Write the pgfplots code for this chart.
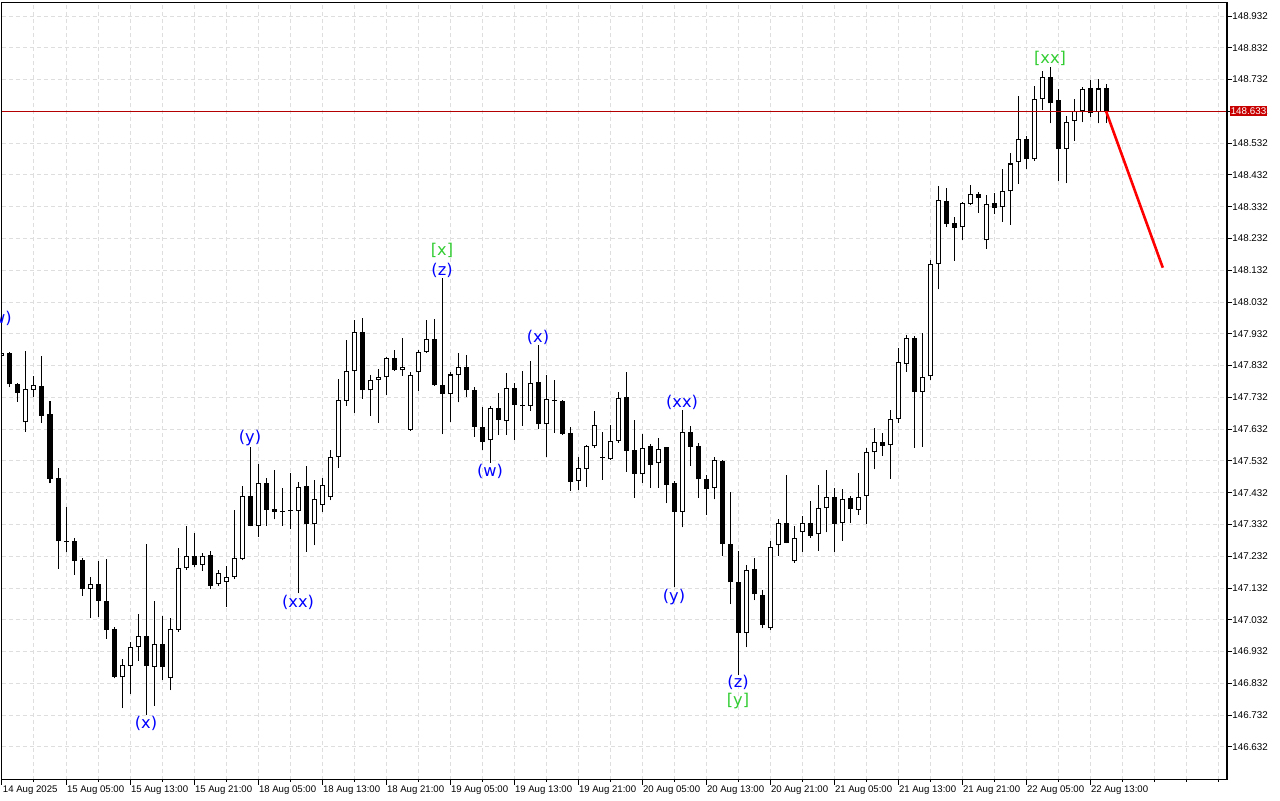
\documentclass[border=0pt]{standalone}
\usepackage{fontspec}
\setmainfont{Liberation Sans}
\newfontfamily\lblfont{DejaVu Sans}
\usepackage{pgfplots}
\pgfplotsset{compat=1.18}
\usepackage{pgfplotstable}

\definecolor{mtblue}{RGB}{0,0,255}
\definecolor{mtgreen}{RGB}{50,205,50}
\definecolor{gridc}{RGB}{222,222,222}
\definecolor{pricered}{RGB}{180,0,0}
\definecolor{boxred}{RGB}{200,0,0}

\pgfplotstableread{
i o h l c
0 147.862 147.878 147.856 147.872
1 147.871 147.874 147.764 147.773
2 147.774 147.778 147.718 147.747
3 147.653 147.878 147.624 147.757
4 147.755 147.799 147.734 147.770
5 147.768 147.862 147.652 147.674
6 147.680 147.721 147.462 147.476
7 147.477 147.509 147.193 147.279
8 147.281 147.387 147.244 147.278
9 147.280 147.289 147.174 147.218
10 147.220 147.226 147.108 147.130
11 147.130 147.168 147.039 147.144
12 147.145 147.217 147.042 147.092
13 147.091 147.223 146.973 147.001
14 147.003 147.010 146.848 146.852
15 146.851 146.909 146.754 146.889
16 146.886 146.962 146.798 146.946
17 146.946 147.051 146.903 146.980
18 146.980 147.271 146.732 146.886
19 146.883 147.091 146.762 146.955
20 146.956 147.044 146.843 146.884
21 146.849 147.038 146.811 147.003
22 147.000 147.257 146.994 147.194
23 147.194 147.327 147.189 147.232
24 147.232 147.304 147.197 147.205
25 147.205 147.241 147.187 147.232
26 147.235 147.249 147.129 147.139
27 147.144 147.189 147.138 147.180
28 147.152 147.201 147.073 147.168
29 147.166 147.378 147.160 147.226
30 147.224 147.453 147.220 147.421
31 147.421 147.577 147.326 147.328
32 147.328 147.521 147.293 147.463
33 147.463 147.477 147.328 147.379
34 147.380 147.503 147.348 147.372
35 147.376 147.446 147.328 147.373
36 147.377 147.495 147.317 147.374
37 147.374 147.465 147.116 147.449
38 147.453 147.516 147.246 147.334
39 147.334 147.472 147.267 147.412
40 147.393 147.478 147.371 147.456
41 147.418 147.566 147.409 147.545
42 147.545 147.789 147.511 147.723
43 147.720 147.912 147.706 147.814
44 147.814 147.975 147.684 147.937
45 147.937 147.981 147.728 147.754
46 147.754 147.802 147.674 147.786
47 147.786 147.820 147.652 147.795
48 147.795 147.860 147.738 147.855
49 147.855 147.881 147.816 147.819
50 147.817 147.919 147.800 147.827
51 147.630 147.812 147.627 147.801
52 147.811 147.881 147.753 147.874
53 147.874 147.975 147.872 147.915
54 147.915 147.979 147.768 147.770
55 147.770 148.107 147.616 147.742
56 147.742 147.812 147.655 147.804
57 147.801 147.871 147.716 147.827
58 147.827 147.866 147.734 147.754
59 147.754 147.766 147.608 147.640
60 147.638 147.701 147.566 147.592
61 147.597 147.705 147.526 147.698
62 147.698 147.745 147.614 147.660
63 147.657 147.810 147.614 147.761
64 147.761 147.776 147.598 147.708
65 147.707 147.816 147.642 147.704
66 147.705 147.846 147.690 147.777
67 147.780 147.897 147.631 147.647
68 147.647 147.802 147.545 147.726
69 147.723 147.787 147.621 147.720
70 147.721 147.724 147.614 147.618
71 147.619 147.640 147.438 147.467
72 147.470 147.543 147.441 147.509
73 147.506 147.582 147.451 147.578
74 147.578 147.690 147.573 147.644
75 147.545 147.623 147.472 147.542
76 147.537 147.645 147.535 147.596
77 147.595 147.750 147.589 147.729
78 147.732 147.813 147.498 147.564
79 147.566 147.661 147.416 147.492
80 147.490 147.617 147.463 147.572
81 147.578 147.585 147.447 147.520
82 147.524 147.603 147.447 147.570
83 147.575 147.577 147.399 147.457
84 147.462 147.470 147.136 147.372
85 147.372 147.692 147.323 147.622
86 147.622 147.642 147.517 147.577
87 147.579 147.587 147.416 147.474
88 147.474 147.488 147.363 147.443
89 147.446 147.543 147.411 147.535
90 147.532 147.535 147.234 147.270
91 147.270 147.434 147.081 147.150
92 147.150 147.249 146.858 146.990
93 146.990 147.204 146.946 147.188
94 147.191 147.226 147.094 147.112
95 147.110 147.126 147.006 147.016
96 147.006 147.280 147.000 147.262
97 147.266 147.349 147.234 147.336
98 147.336 147.488 147.273 147.275
99 147.216 147.326 147.211 147.289
100 147.307 147.359 147.246 147.336
101 147.336 147.406 147.290 147.296
102 147.301 147.456 147.249 147.383
103 147.383 147.503 147.307 147.419
104 147.417 147.446 147.246 147.334
105 147.336 147.443 147.281 147.411
106 147.414 147.422 147.338 147.380
107 147.377 147.493 147.363 147.419
108 147.421 147.572 147.334 147.559
109 147.559 147.636 147.506 147.591
110 147.591 147.619 147.548 147.580
111 147.581 147.692 147.476 147.663
112 147.663 147.886 147.652 147.842
113 147.837 147.928 147.813 147.918
114 147.918 147.925 147.574 147.750
115 147.750 147.934 147.577 147.795
116 147.798 148.164 147.787 148.151
117 148.151 148.397 148.072 148.352
118 148.349 148.391 148.269 148.278
119 148.281 148.299 148.162 148.266
120 148.267 148.348 148.228 148.343
121 148.341 148.400 148.337 148.371
122 148.371 148.379 148.313 148.360
123 148.226 148.369 148.200 148.340
124 148.343 148.376 148.309 148.329
125 148.330 148.451 148.285 148.380
126 148.380 148.500 148.275 148.468
127 148.472 148.680 148.404 148.544
128 148.544 148.554 148.451 148.481
129 148.481 148.712 148.477 148.670
130 148.670 148.759 148.636 148.739
131 148.739 148.771 148.594 148.657
132 148.667 148.702 148.414 148.513
133 148.513 148.617 148.406 148.598
134 148.601 148.670 148.540 148.633
135 148.632 148.710 148.598 148.701
136 148.704 148.731 148.615 148.626
137 148.630 148.734 148.594 148.704
138 148.704 148.718 148.596 148.633
}\candles

\pgfplotsset{candlepart/.style={only marks, mark=*, mark size=0pt,
  mark options={draw=none, fill=none}, forget plot}}

\begin{document}
\begin{tikzpicture}
\useasboundingbox (0,0) rectangle (640pt,400pt);
\begin{axis}[
  at={(1pt,10.25pt)}, anchor=south west,
  width=612.5pt, height=388.25pt, scale only axis,
  xmin=0, xmax=153.125, ymin=146.5295, ymax=148.973,
  clip mode=individual,
  axis line style={line width=0.5pt, black},
  tick align=outside,
  major tick length=2.5pt, minor tick length=1pt,
  tick style={black, line width=0.5pt},
  xtick={0,8,...,136},
  xticklabels={14 Aug 2025,15 Aug 05:00,15 Aug 13:00,15 Aug 21:00,18 Aug 05:00,18 Aug 13:00,18 Aug 21:00,19 Aug 05:00,19 Aug 13:00,19 Aug 21:00,20 Aug 05:00,20 Aug 13:00,20 Aug 21:00,21 Aug 05:00,21 Aug 13:00,21 Aug 21:00,22 Aug 05:00,22 Aug 13:00},
  minor xtick={4,12,...,132,140,144,148,152},
  xtick pos=left, ytick pos=right, yticklabel pos=right,
  ytick={146.632,146.732,146.832,146.932,147.032,147.132,147.232,147.332,147.432,147.532,147.632,147.732,147.832,147.932,148.032,148.132,148.232,148.332,148.432,148.532,148.632,148.732,148.832,148.932},
  yticklabels={146.632,146.732,146.832,146.932,147.032,147.132,147.232,147.332,147.432,147.532,147.632,147.732,147.832,147.932,148.032,148.132,148.232,148.332,148.432,148.532,148.632,148.732,148.832,148.932},
  xmajorgrids, xminorgrids, ymajorgrids,
  grid style={gridc, dash pattern=on 2pt off 1.5pt, line width=0.5pt},
  minor grid style={gridc, dash pattern=on 2pt off 1.5pt, line width=0.5pt},
  xticklabel style={font=\fontsize{4.8pt}{5.5pt}\selectfont, anchor=north west, inner sep=0pt, xshift=0.3pt, yshift=-0.4pt},
  yticklabel style={font=\fontsize{4.9pt}{5.5pt}\selectfont, anchor=west, inner sep=0pt},
]
% wicks
\addplot[candlepart,
  error bars/.cd, y dir=plus, y explicit, error mark=none,
  error bar style={draw=black, solid, line width=0.5pt}]
  table[x=i, y=l, y error plus expr=\thisrow{h}-\thisrow{l}] {\candles};
% bearish bodies
\addplot[candlepart,
  restrict expr to domain={\thisrow{o}-\thisrow{c}}{0:1},
  error bars/.cd, y dir=plus, y explicit, error mark=none,
  error bar style={draw=black, solid, line width=2.5pt}]
  table[x=i, y=c, y error plus expr=\thisrow{o}-\thisrow{c}] {\candles};
% bullish bodies: outline
\addplot[candlepart,
  restrict expr to domain={\thisrow{c}-\thisrow{o}}{0.0005:1},
  error bars/.cd, y dir=plus, y explicit, error mark=none,
  error bar style={draw=black, solid, line width=2.5pt}]
  table[x=i, y=o, y error plus expr=\thisrow{c}-\thisrow{o}] {\candles};
% bullish bodies: white fill
\addplot[candlepart,
  restrict expr to domain={\thisrow{c}-\thisrow{o}}{0.0005:1},
  error bars/.cd, y dir=plus, y explicit, error mark=none,
  error bar style={draw=white, solid, line width=1.5pt}]
  table[x=i, y expr=\thisrow{o}+0.0032, y error plus expr=\thisrow{c}-\thisrow{o}-0.0064] {\candles};
% current price line
\addplot[pricered, line width=0.5pt, forget plot] coordinates {(0,148.633) (153.125,148.633)};
% forecast line
\addplot[red, line width=1.3pt, forget plot] coordinates {(138,148.633) (145.1,148.140)};
% wave labels
\begin{scope}[every node/.style={font=\lblfont\fontsize{8.1pt}{9pt}\selectfont, inner sep=0pt}]
\node[text=mtblue] at (axis cs:-0.4,147.982) {(w)};
\node[text=mtblue] at (axis cs:18,146.707) {(x)};
\node[text=mtblue] at (axis cs:31,147.604) {(y)};
\node[text=mtblue] at (axis cs:37,147.088) {(xx)};
\node[text=mtgreen] at (axis cs:55,148.194) {[x]};
\node[text=mtblue] at (axis cs:55,148.133) {(z)};
\node[text=mtblue] at (axis cs:61,147.499) {(w)};
\node[text=mtblue] at (axis cs:67,147.922) {(x)};
\node[text=mtblue] at (axis cs:85,147.717) {(xx)};
\node[text=mtblue] at (axis cs:84,147.104) {(y)};
\node[text=mtblue] at (axis cs:92,146.835) {(z)};
\node[text=mtgreen] at (axis cs:92,146.777) {[y]};
\node[text=mtgreen] at (axis cs:131,148.800) {[xx]};
\end{scope}
% right axis emphasis and price box
\draw[line width=1.2pt] (rel axis cs:1,0) -- (rel axis cs:1,1);
\node[fill=boxred, text=white, anchor=west, inner sep=0pt, minimum height=5pt, minimum width=18.5pt,
  font=\fontsize{4.9pt}{5.5pt}\selectfont] at ([xshift=1.3pt]axis cs:153.125,148.633) {148.633};
\end{axis}
\end{tikzpicture}
\end{document}
